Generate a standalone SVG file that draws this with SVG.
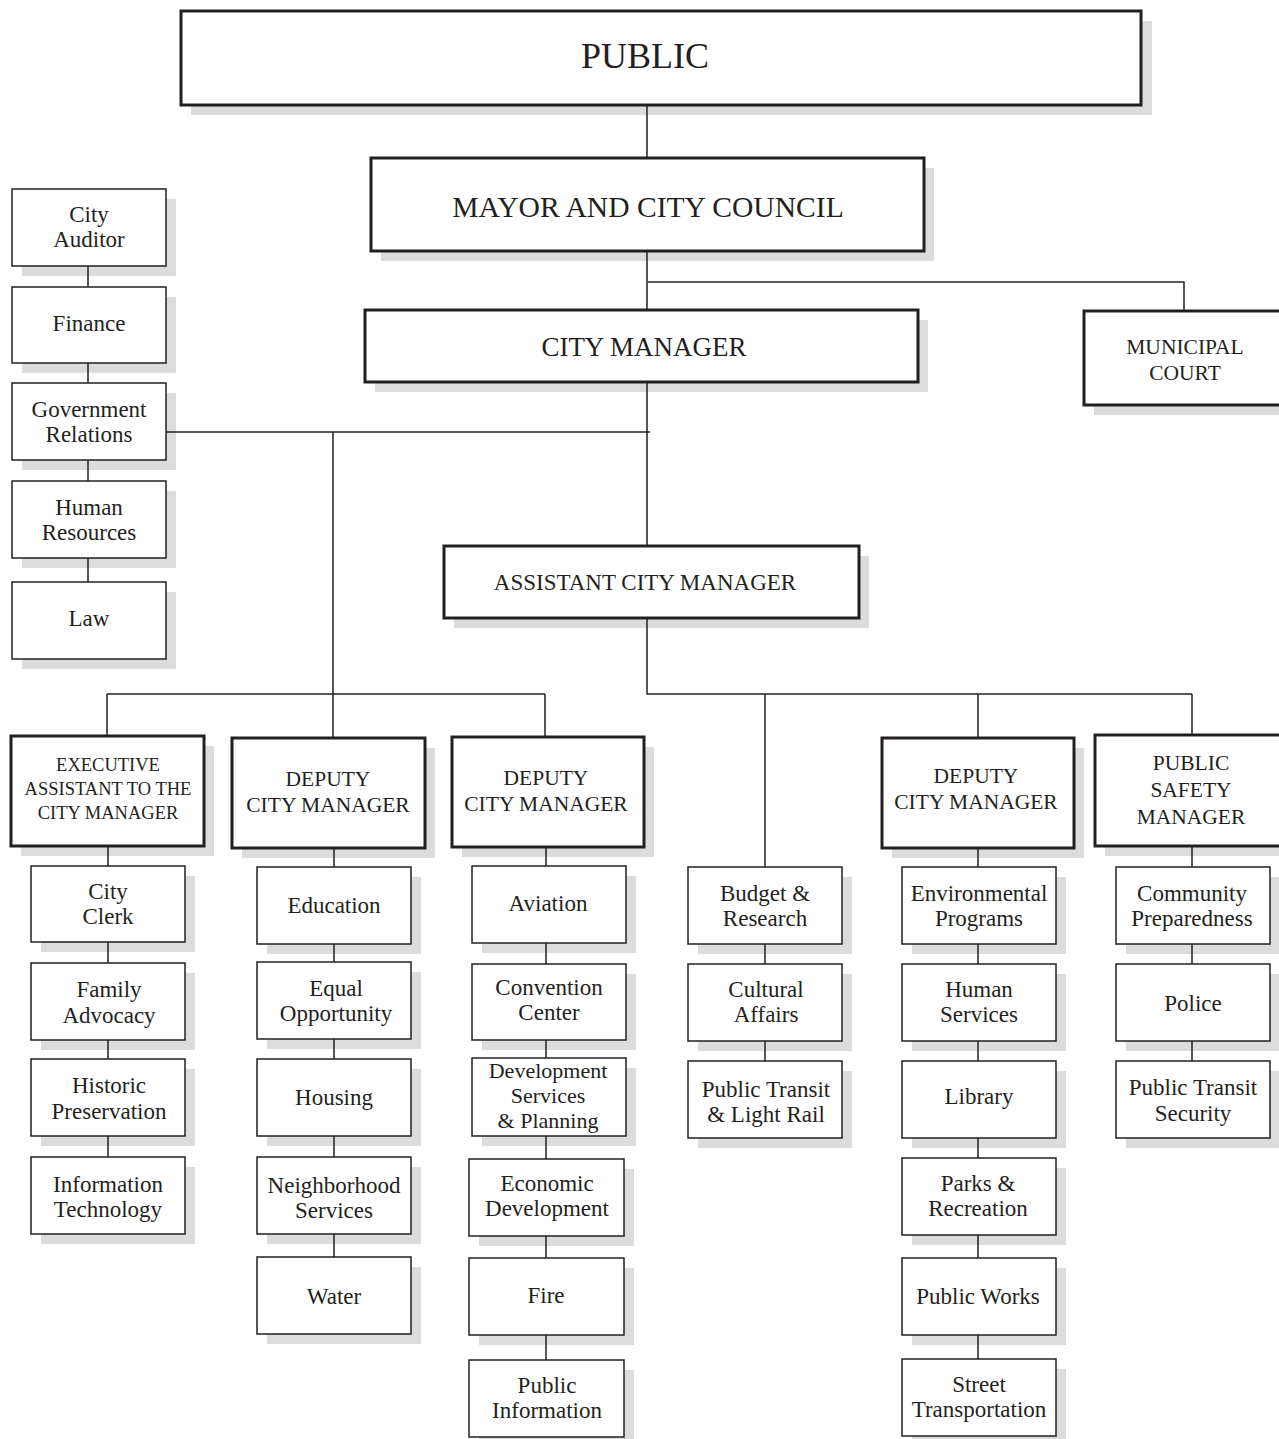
<svg xmlns="http://www.w3.org/2000/svg" width="1279" height="1439" viewBox="0 0 1279 1439">
<style>
  .sh{fill:#dcdcdd}
  .bx{fill:#fff;stroke:#231f20;stroke-width:1.5}
  .tk{fill:#fff;stroke:#231f20;stroke-width:3}
  .ln{stroke:#231f20;stroke-width:1.5;fill:none}
  text{font-family:"Liberation Serif","Times New Roman",serif;fill:#231f20;text-anchor:middle}
  .s{font-size:23px}
  .h{font-size:21.5px}
</style>
<rect width="1279" height="1439" fill="#fff"/>

<g id="public"><rect class="sh" x="191" y="21" width="961" height="94"/><rect class="tk" x="181" y="11" width="960" height="94"/><text x="645" y="68" font-size="36">PUBLIC</text></g>
<g id="mayor"><rect class="sh" x="381" y="168" width="553" height="93"/><rect class="tk" x="371" y="158" width="553" height="93"/><text x="648" y="217" font-size="29.6">MAYOR AND CITY COUNCIL</text></g>
<g id="city-manager"><rect class="sh" x="375" y="320" width="553" height="72"/><rect class="tk" x="365" y="310" width="553" height="72"/><text x="644" y="356" font-size="27">CITY MANAGER</text></g>
<g id="municipal-court"><rect class="sh" x="1094" y="321" width="200" height="94"/><rect class="tk" x="1084" y="311" width="200" height="94"/><text class="h" x="1185" y="354">MUNICIPAL</text><text class="h" x="1185" y="380">COURT</text></g>
<g id="assistant-city-manager"><rect class="sh" x="454" y="556" width="415" height="72"/><rect class="tk" x="444" y="546" width="415" height="72"/><text x="645" y="590" font-size="23">ASSISTANT CITY MANAGER</text></g>

<g id="city-auditor"><rect class="sh" x="22" y="199" width="154" height="77"/><rect class="bx" x="12" y="189" width="154" height="77"/><text class="s" x="89" y="222">City</text><text class="s" x="89" y="247">Auditor</text></g>
<g id="finance"><rect class="sh" x="22" y="297" width="154" height="76"/><rect class="bx" x="12" y="287" width="154" height="76"/><text class="s" x="89" y="331">Finance</text></g>
<g id="government-relations"><rect class="sh" x="22" y="393" width="154" height="77"/><rect class="bx" x="12" y="383" width="154" height="77"/><text class="s" x="89" y="417">Government</text><text class="s" x="89" y="442">Relations</text></g>
<g id="human-resources"><rect class="sh" x="22" y="491" width="154" height="77"/><rect class="bx" x="12" y="481" width="154" height="77"/><text class="s" x="89" y="515">Human</text><text class="s" x="89" y="540">Resources</text></g>
<g id="law"><rect class="sh" x="22" y="592" width="154" height="77"/><rect class="bx" x="12" y="582" width="154" height="77"/><text class="s" x="89" y="626">Law</text></g>

<g id="executive-assistant"><rect class="sh" x="21" y="746" width="193" height="110"/><rect class="tk" x="11" y="736" width="193" height="110"/><text x="108" y="771" font-size="18.5">EXECUTIVE</text><text x="108" y="795" font-size="18.5">ASSISTANT TO THE</text><text x="108" y="819" font-size="18.5">CITY MANAGER</text></g>
<g id="deputy-1"><rect class="sh" x="242" y="748" width="193" height="110"/><rect class="tk" x="232" y="738" width="193" height="110"/><text class="h" x="328" y="786">DEPUTY</text><text class="h" x="328" y="812">CITY MANAGER</text></g>
<g id="deputy-2"><rect class="sh" x="462" y="747" width="192" height="110"/><rect class="tk" x="452" y="737" width="192" height="110"/><text class="h" x="546" y="785">DEPUTY</text><text class="h" x="546" y="811">CITY MANAGER</text></g>
<g id="deputy-3"><rect class="sh" x="892" y="748" width="192" height="110"/><rect class="tk" x="882" y="738" width="192" height="110"/><text class="h" x="976" y="783">DEPUTY</text><text class="h" x="976" y="809">CITY MANAGER</text></g>
<g id="public-safety-manager"><rect class="sh" x="1105" y="745" width="192" height="111"/><rect class="tk" x="1095" y="735" width="192" height="111"/><text class="h" x="1191" y="770">PUBLIC</text><text class="h" x="1191" y="797">SAFETY</text><text class="h" x="1191" y="824">MANAGER</text></g>

<g id="city-clerk"><rect class="sh" x="41" y="876" width="154" height="76"/><rect class="bx" x="31" y="866" width="154" height="76"/><text class="s" x="108" y="899">City</text><text class="s" x="108" y="924">Clerk</text></g>
<g id="family-advocacy"><rect class="sh" x="41" y="973" width="154" height="77"/><rect class="bx" x="31" y="963" width="154" height="77"/><text class="s" x="109" y="997">Family</text><text class="s" x="109" y="1023">Advocacy</text></g>
<g id="historic-preservation"><rect class="sh" x="41" y="1069" width="154" height="77"/><rect class="bx" x="31" y="1059" width="154" height="77"/><text class="s" x="109" y="1093">Historic</text><text class="s" x="109" y="1119">Preservation</text></g>
<g id="information-technology"><rect class="sh" x="41" y="1167" width="154" height="77"/><rect class="bx" x="31" y="1157" width="154" height="77"/><text class="s" x="108" y="1192">Information</text><text class="s" x="108" y="1217">Technology</text></g>

<g id="education"><rect class="sh" x="267" y="877" width="154" height="77"/><rect class="bx" x="257" y="867" width="154" height="77"/><text class="s" x="334" y="913">Education</text></g>
<g id="equal-opportunity"><rect class="sh" x="267" y="972" width="154" height="77"/><rect class="bx" x="257" y="962" width="154" height="77"/><text class="s" x="336" y="996">Equal</text><text class="s" x="336" y="1021">Opportunity</text></g>
<g id="housing"><rect class="sh" x="267" y="1069" width="154" height="77"/><rect class="bx" x="257" y="1059" width="154" height="77"/><text class="s" x="334" y="1105">Housing</text></g>
<g id="neighborhood-services"><rect class="sh" x="267" y="1167" width="154" height="77"/><rect class="bx" x="257" y="1157" width="154" height="77"/><text class="s" x="334" y="1193">Neighborhood</text><text class="s" x="334" y="1218">Services</text></g>
<g id="water"><rect class="sh" x="267" y="1267" width="154" height="77"/><rect class="bx" x="257" y="1257" width="154" height="77"/><text class="s" x="334" y="1304">Water</text></g>

<g id="aviation"><rect class="sh" x="482" y="876" width="154" height="77"/><rect class="bx" x="472" y="866" width="154" height="77"/><text class="s" x="548" y="911">Aviation</text></g>
<g id="convention-center"><rect class="sh" x="482" y="974" width="154" height="76"/><rect class="bx" x="472" y="964" width="154" height="76"/><text class="s" x="549" y="995">Convention</text><text class="s" x="549" y="1020">Center</text></g>
<g id="development-services"><rect class="sh" x="482" y="1068" width="154" height="78"/><rect class="bx" x="472" y="1058" width="154" height="78"/><text x="548" y="1078" font-size="22">Development</text><text x="548" y="1103" font-size="22">Services</text><text x="548" y="1128" font-size="22">&amp; Planning</text></g>
<g id="economic-development"><rect class="sh" x="479" y="1169" width="155" height="77"/><rect class="bx" x="469" y="1159" width="155" height="77"/><text class="s" x="547" y="1191">Economic</text><text class="s" x="547" y="1216">Development</text></g>
<g id="fire"><rect class="sh" x="479" y="1268" width="155" height="77"/><rect class="bx" x="469" y="1258" width="155" height="77"/><text class="s" x="546" y="1303">Fire</text></g>
<g id="public-information"><rect class="sh" x="479" y="1370" width="155" height="77"/><rect class="bx" x="469" y="1360" width="155" height="77"/><text class="s" x="547" y="1393">Public</text><text class="s" x="547" y="1418">Information</text></g>

<g id="budget-research"><rect class="sh" x="698" y="877" width="154" height="77"/><rect class="bx" x="688" y="867" width="154" height="77"/><text class="s" x="765" y="901">Budget &amp;</text><text class="s" x="765" y="926">Research</text></g>
<g id="cultural-affairs"><rect class="sh" x="698" y="974" width="154" height="77"/><rect class="bx" x="688" y="964" width="154" height="77"/><text class="s" x="766" y="997">Cultural</text><text class="s" x="766" y="1022">Affairs</text></g>
<g id="public-transit-light-rail"><rect class="sh" x="698" y="1071" width="154" height="77"/><rect class="bx" x="688" y="1061" width="154" height="77"/><text class="s" x="766" y="1097">Public Transit</text><text class="s" x="766" y="1122">&amp; Light Rail</text></g>

<g id="environmental-programs"><rect class="sh" x="912" y="877" width="154" height="77"/><rect class="bx" x="902" y="867" width="154" height="77"/><text class="s" x="979" y="901">Environmental</text><text class="s" x="979" y="926">Programs</text></g>
<g id="human-services"><rect class="sh" x="912" y="974" width="154" height="77"/><rect class="bx" x="902" y="964" width="154" height="77"/><text class="s" x="979" y="997">Human</text><text class="s" x="979" y="1022">Services</text></g>
<g id="library"><rect class="sh" x="912" y="1071" width="154" height="77"/><rect class="bx" x="902" y="1061" width="154" height="77"/><text class="s" x="979" y="1104">Library</text></g>
<g id="parks-recreation"><rect class="sh" x="912" y="1168" width="154" height="77"/><rect class="bx" x="902" y="1158" width="154" height="77"/><text class="s" x="978" y="1191">Parks &amp;</text><text class="s" x="978" y="1216">Recreation</text></g>
<g id="public-works"><rect class="sh" x="912" y="1268" width="154" height="77"/><rect class="bx" x="902" y="1258" width="154" height="77"/><text class="s" x="978" y="1304">Public Works</text></g>
<g id="street-transportation"><rect class="sh" x="912" y="1369" width="154" height="77"/><rect class="bx" x="902" y="1359" width="154" height="77"/><text class="s" x="979" y="1392">Street</text><text class="s" x="979" y="1417">Transportation</text></g>

<g id="community-preparedness"><rect class="sh" x="1126" y="877" width="154" height="77"/><rect class="bx" x="1116" y="867" width="154" height="77"/><text class="s" x="1192" y="901">Community</text><text class="s" x="1192" y="926">Preparedness</text></g>
<g id="police"><rect class="sh" x="1126" y="974" width="154" height="77"/><rect class="bx" x="1116" y="964" width="154" height="77"/><text class="s" x="1193" y="1011">Police</text></g>
<g id="public-transit-security"><rect class="sh" x="1126" y="1071" width="154" height="77"/><rect class="bx" x="1116" y="1061" width="154" height="77"/><text class="s" x="1193" y="1095">Public Transit</text><text class="s" x="1193" y="1121">Security</text></g>

<g id="connectors" class="ln">
  <path d="M647 105V158M647 251V310M648 282H1184V311M647 382V546"/>
  <path d="M166 432H650M333 432V694M107 694H545M107 694V736M333 694V738M545 694V737"/>
  <path d="M647 618V694H1192M765 694V867M978 694V738M1192 694V735"/>
  <path d="M88 266V287M88 363V383M88 460V481M88 558V582"/>
  <path d="M108 846V866M108 942V963M108 1040V1059M108 1136V1157"/>
  <path d="M334 848V867M334 944V962M334 1039V1059M334 1136V1157M334 1234V1257"/>
  <path d="M546 847V866M546 943V964M546 1040V1058M546 1136V1159M546 1236V1258M546 1335V1360"/>
  <path d="M765 944V964M765 1041V1061"/>
  <path d="M978 848V867M978 944V964M978 1041V1061M978 1138V1158M978 1235V1258M978 1335V1359"/>
  <path d="M1192 846V867M1192 944V964M1192 1041V1061"/>
</g>
</svg>
